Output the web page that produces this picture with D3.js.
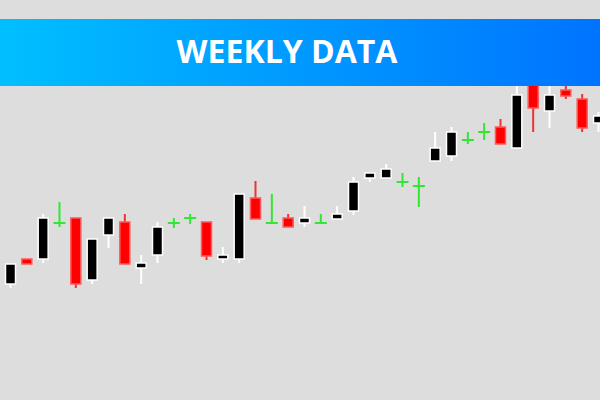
<!DOCTYPE html>
<html><head><meta charset="utf-8">
<script src="https://cdn.jsdelivr.net/npm/d3@7"></script>
<style>html,body{margin:0;padding:0;background:#dddddd;}svg{display:block;}</style>
</head><body>
<svg id="c" width="600" height="400"></svg>
<script>
const title = "WEEKLY DATA";
const weeks = d3.range(1, 38);
const opens  = [116,141,141,177,182,120,165,178,132,145,177,182,178,141,141,202,177,182,177,177,181,189,222,222,218,214,239,244,260,268,273,252,322,289,310,301,277];
const highs  = [136,141,186,198,182,161,182,186,145,178,182,186,178,153,206,219,206,186,194,186,194,223,227,236,227,223,268,273,268,277,281,322,325,318,318,306,288];
const lows   = [112,136,137,173,112,116,152,136,116,137,172,176,140,137,137,181,177,173,173,177,181,185,218,222,213,193,239,239,256,260,256,252,268,272,301,268,268];
const closes = [136,136,182,177,116,161,182,136,137,173,177,182,144,145,206,181,177,173,182,177,186,218,227,231,218,214,252,268,260,268,256,305,292,305,304,272,284];

const data = weeks.map((w,i)=>({w, o:opens[i], h:highs[i], l:lows[i], c:closes[i]}));
const svg = d3.select("#c");
const W = 600, H = 400;
svg.append("rect").attr("width",W).attr("height",H).attr("fill","#dddddd");

const x = d3.scalePoint().domain(weeks).range([10.5, 598.5]);
const y = d3.scaleLinear().domain([0,400]).range([400,0]);
const bw = 10;

const kind = d => d.c > d.o ? "up" : (d.c < d.o ? "down" : "doji");
const g = svg.append("g");

const candles = g.selectAll("g.k").data(data).join("g").attr("class","k");

candles.append("line")
  .attr("x1", d=>x(d.w)).attr("x2", d=>x(d.w))
  .attr("y1", d=>y(d.h)).attr("y2", d=>y(d.l))
  .attr("stroke", d=> kind(d)==="up" ? "#ffffff" : kind(d)==="down" ? "#ee3333" : "#33e633")
  .attr("stroke-width", 2);

candles.filter(d=>kind(d)!=="doji").append("rect")
  .attr("x", d=>x(d.w)-bw/2)
  .attr("y", d=>y(Math.max(d.o,d.c)))
  .attr("width", bw)
  .attr("height", d=>Math.abs(y(d.o)-y(d.c)))
  .attr("fill", d=> kind(d)==="up" ? "#000000" : "#ff0000")
  .attr("stroke", d=> kind(d)==="up" ? "#ffffff" : "#ff5a5a")
  .attr("stroke-width", 1.5);

candles.filter(d=>kind(d)==="doji").append("line")
  .attr("x1", d=>x(d.w)-6).attr("x2", d=>x(d.w)+6)
  .attr("y1", d=>y(d.o)).attr("y2", d=>y(d.o))
  .attr("stroke","#33e633").attr("stroke-width",2);

const defs = svg.append("defs");
const grad = defs.append("linearGradient").attr("id","bg").attr("x1","0%").attr("x2","100%");
grad.append("stop").attr("offset","0%").attr("stop-color","#00bfff");
grad.append("stop").attr("offset","100%").attr("stop-color","#0074ff");
svg.append("rect").attr("x",0).attr("y",19).attr("width",W).attr("height",67).attr("fill","url(#bg)");
svg.append("text").attr("x",287).attr("y",63)
  .attr("text-anchor","middle")
  .attr("font-family","'Open Sans', sans-serif").attr("font-weight",700)
  .attr("font-size",32).attr("fill","#ffffff").text(title);
</script>
</body></html>
